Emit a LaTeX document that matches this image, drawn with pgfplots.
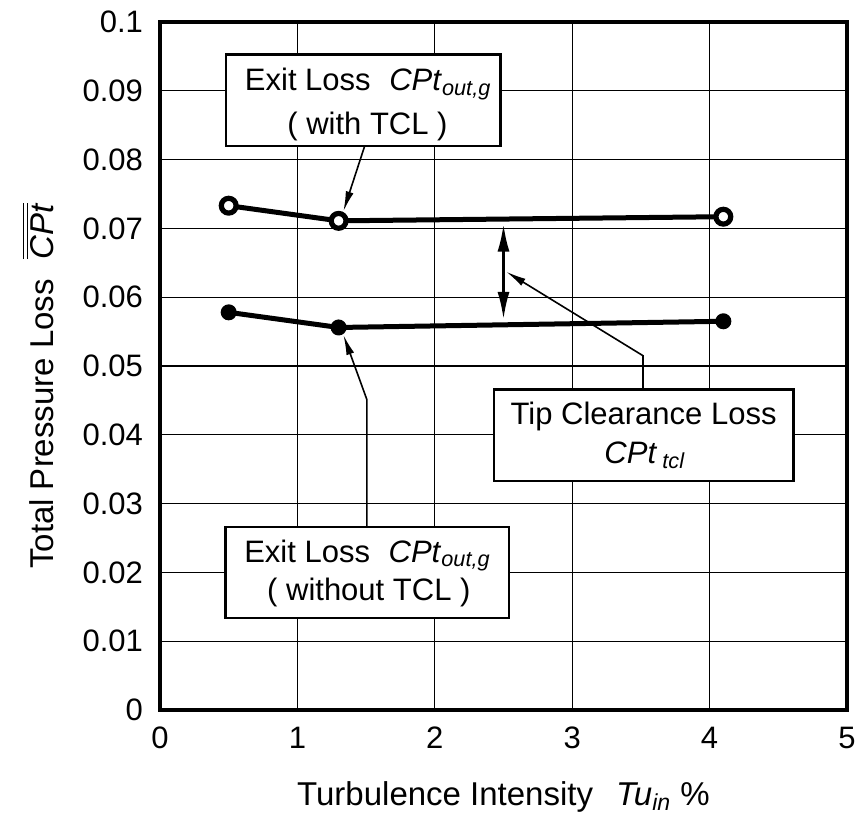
\documentclass[border=0pt]{standalone}
\usepackage{pgfplots}
\pgfplotsset{compat=1.18}
\usepackage{fontspec}
\setmainfont{Liberation Sans}
\usetikzlibrary{arrows.meta}
\pgfplotstableread{
x y
0.5 0.0733
1.3 0.0711
4.1 0.0717
}\withtcl
\pgfplotstableread{
x y
0.5 0.0578
1.3 0.0556
4.1 0.0565
}\withouttcl
\begin{document}
\begin{tikzpicture}
\useasboundingbox (-80pt,-52.5pt) rectangle (350.5pt,355pt);
\begin{axis}[
  at={(0,0)}, anchor=south west,
  scale only axis, width=343.5pt, height=344pt,
  xmin=0, xmax=5, ymin=0, ymax=0.1,
  xtick={0,1,2,3,4,5}, ytick={0,0.01,...,0.1},
  grid=major, major grid style={black, line width=0.6pt},
  major tick length=0pt,
  axis line style={line width=2pt},
  scaled y ticks=false,
  /pgf/number format/assume math mode=true,
  yticklabel style={/pgf/number format/fixed, /pgf/number format/precision=2, font=\fontsize{15.5}{18}\selectfont, xshift=-5pt},
  xticklabel style={font=\fontsize{15.5}{18}\selectfont, yshift=-5pt},
  xlabel={Turbulence Intensity\hspace{0.7em}\textit{Tu}\textsubscript{\textit{in}} \%},
  ylabel={Total Pressure Loss\hspace{0.6em}$\overline{\overline{\mbox{\textit{CPt}}}}$},
  xlabel style={font=\fontsize{16.5}{19}\selectfont, at={(axis description cs:0.5,0)}, anchor=base, yshift=-47.5pt},
  ylabel style={font=\fontsize{16.5}{19}\selectfont, at={(axis description cs:-0.1776,0.471)}, anchor=center},
  clip=false,
]
\addplot[black, line width=2.5pt, mark=*, mark size=3.7pt, mark options={fill=white, line width=2.6pt}] table {\withtcl};
\addplot[black, line width=2.5pt, mark=*, mark size=3.5pt, mark options={fill=black, line width=1pt}] table {\withouttcl};
% double arrow
\draw[line width=1.5pt, {Latex[length=14pt,width=6pt]}-{Latex[length=14pt,width=6pt]}] (axis cs:2.5,0.0707) -- (axis cs:2.5,0.0567);
% tip clearance leader
\draw[line width=0.8pt, -{Latex[length=10pt,width=4pt]}] (axis cs:3.515,0.0466) -- (axis cs:3.515,0.0515) -- (axis cs:2.52,0.0637);
% top leader
\draw[line width=0.8pt, -{Latex[length=10pt,width=4pt]}] (axis cs:1.49,0.0820) -- (axis cs:1.335,0.0725);
% bottom leader
\draw[line width=0.8pt, -{Latex[length=10pt,width=4pt]}] (axis cs:1.506,0.0266) -- (axis cs:1.506,0.0451) -- (axis cs:1.335,0.0545);
% boxes
\draw[line width=1.3pt, fill=white] (axis cs:0.48,0.0820) rectangle (axis cs:2.48,0.0953);
\node[anchor=base, font=\fontsize{15.5}{18}\selectfont, inner sep=0pt] at (axis cs:1.515,0.0900) {Exit Loss\hspace{0.6em}\textit{CPt}\textsubscript{\textit{out,g}}};
\node[anchor=base, font=\fontsize{15.5}{18}\selectfont, inner sep=0pt] at (axis cs:1.51,0.0837) {( with TCL )};
\draw[line width=1.3pt, fill=white] (axis cs:0.478,0.0134) rectangle (axis cs:2.54,0.0266);
\node[anchor=base, font=\fontsize{15.5}{18}\selectfont, inner sep=0pt] at (axis cs:1.51,0.0215) {Exit Loss\hspace{0.6em}\textit{CPt}\textsubscript{\textit{out,g}}};
\node[anchor=base, font=\fontsize{15.5}{18}\selectfont, inner sep=0pt] at (axis cs:1.52,0.0159) {( without TCL )};
\draw[line width=1.3pt, fill=white] (axis cs:2.43,0.0333) rectangle (axis cs:4.61,0.0466);
\node[anchor=base, font=\fontsize{15.5}{18}\selectfont, inner sep=0pt] at (axis cs:3.52,0.0415) {Tip Clearance Loss};
\node[anchor=base, font=\fontsize{15.5}{18}\selectfont, inner sep=0pt] at (axis cs:3.53,0.0359) {\textit{CPt}\,\textsubscript{\textit{tcl}}};
\end{axis}
\end{tikzpicture}
\end{document}
